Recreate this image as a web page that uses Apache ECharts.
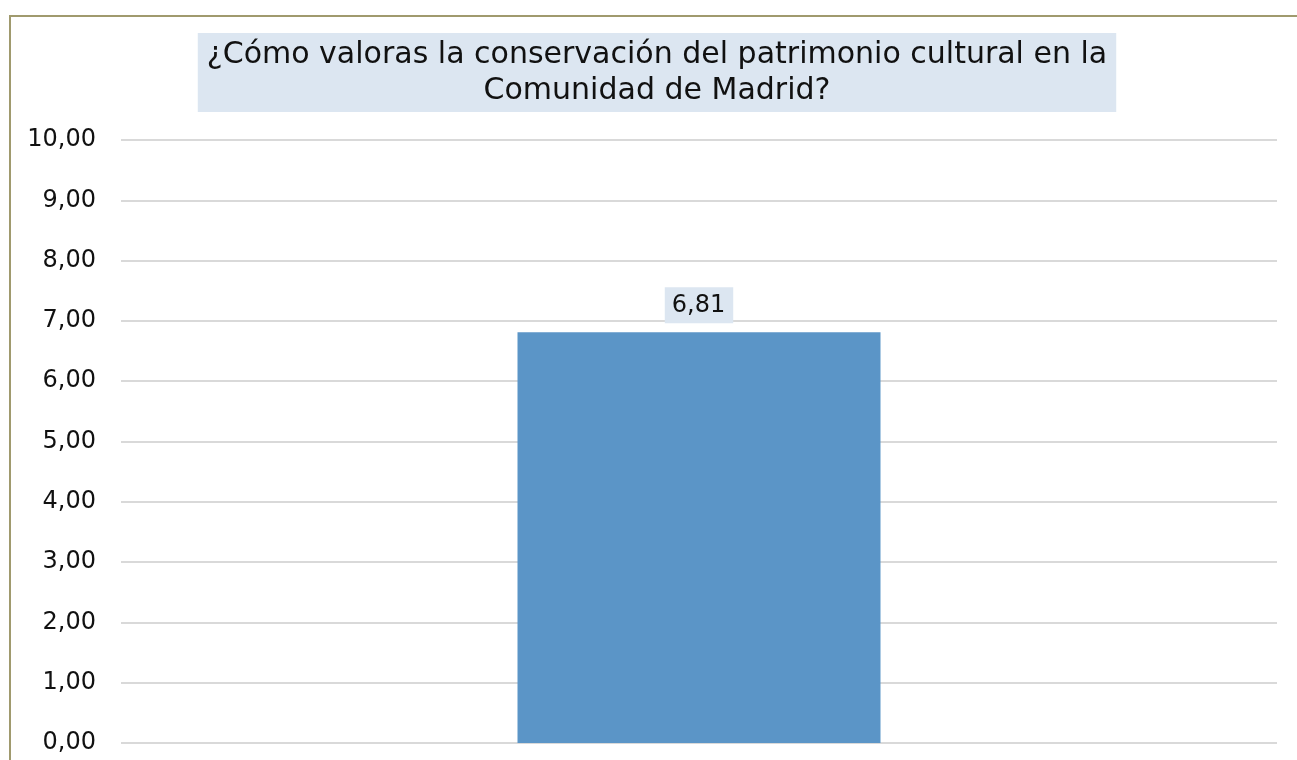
<!DOCTYPE html>
<html>
<head>
<meta charset="utf-8">
<script src="https://cdn.jsdelivr.net/npm/echarts@6/dist/echarts.min.js"></script>
<style>
  html, body { margin: 0; padding: 0; background: #fff; overflow: hidden; }
  #chart { width: 1297px; height: 760px; }
</style>
</head>
<body>
<div id="chart"></div>
<script>
// data
const titleText = "¿Cómo valoras la conservación del patrimonio cultural en la\nComunidad de Madrid?";
const categories = [""];
const values = [6.81];
const yMin = 0;
const yMax = 10;
const yStep = 1;

const fmt = (v) => v.toFixed(2).replace(".", ",");
const font = "Verdana, 'DejaVu Sans', sans-serif";

let myChart = echarts.init(document.getElementById("chart"));

myChart.setOption({
  animation: false,
  graphic: [
    {
      type: "rect",
      silent: true,
      shape: { x: 10, y: 16, width: 1400, height: 900 },
      style: { fill: "none", stroke: "#A09A6E", lineWidth: 2 }
    }
  ],
  title: {
    text: titleText,
    left: 648,
    top: 33,
    textAlign: "center",
    backgroundColor: "#DCE6F1",
    padding: [4, 9, 3, 9],
    textStyle: {
      fontFamily: font,
      fontSize: 30,
      fontWeight: "normal",
      color: "#111",
      lineHeight: 36
    }
  },
  grid: {
    left: 121,
    right: 20,
    top: 140,
    bottom: 17
  },
  xAxis: {
    type: "category",
    data: categories,
    axisLine: { show: false },
    axisTick: { show: false },
    axisLabel: { show: false }
  },
  yAxis: {
    type: "value",
    min: yMin,
    max: yMax,
    interval: yStep,
    axisLine: { show: false },
    axisTick: { show: false },
    axisLabel: {
      margin: 25,
      formatter: fmt,
      fontFamily: font,
      fontSize: 24,
      color: "#111"
    },
    splitLine: {
      lineStyle: { color: "#D9D9D9", width: 2 }
    }
  },
  series: [
    {
      type: "bar",
      data: values,
      barWidth: 363,
      itemStyle: { color: "#5B95C7" },
      label: {
        show: true,
        position: "top",
        distance: 9,
        formatter: (p) => fmt(p.value),
        fontFamily: font,
        fontSize: 24,
        color: "#111",
        backgroundColor: "#DCE6F1",
        padding: [6, 8, 6, 7]
      }
    }
  ]
});
</script>
</body>
</html>
